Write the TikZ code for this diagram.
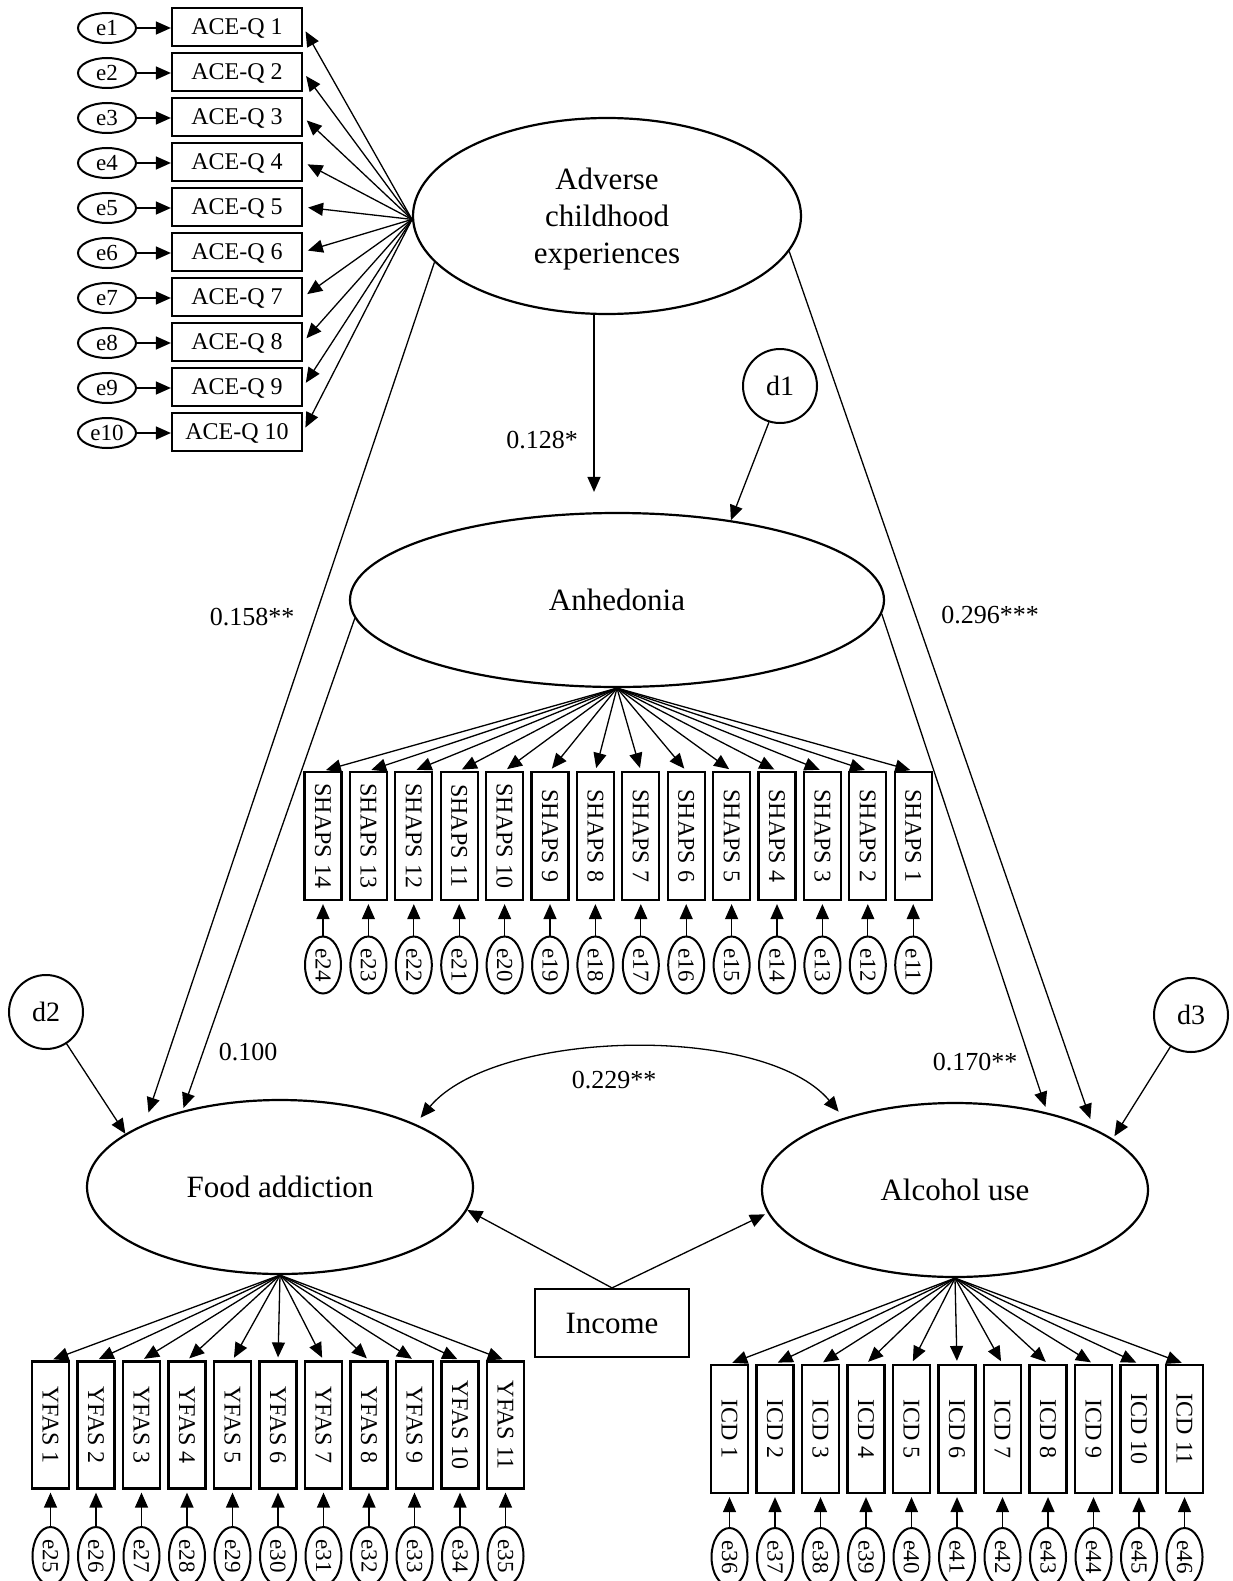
\documentclass[tikz,border=0pt]{standalone}
\usepackage{fontspec}
\setmainfont{Liberation Serif}
\usetikzlibrary{arrows.meta,shapes.geometric}
\tikzset{
  lat/.style={draw, ellipse, line width=2.2pt, inner sep=0pt, align=center, text depth=0pt, font=\fontsize{31}{37}\selectfont},
  obs/.style={draw, rectangle, line width=2.2pt, inner sep=0pt, font=\fontsize{24}{28}\selectfont},
  err/.style={draw, ellipse, line width=2pt, inner sep=0pt, font=\fontsize{23}{27}\selectfont},
  dist/.style={draw, circle, line width=2pt, minimum size=74pt, inner sep=0pt, font=\fontsize{28}{32}\selectfont},
  arr/.style={-{Triangle[length=15pt,width=13pt]}, line width=1.3pt},
  biarr/.style={{Triangle[length=15pt,width=13pt]}-{Triangle[length=15pt,width=13pt]}, line width=1.3pt},
  coef/.style={inner sep=0pt, font=\fontsize{26}{30}\selectfont}
}
\begin{document}
\begin{tikzpicture}[x=1pt,y=-1pt]
\useasboundingbox (0,0) rectangle (1233,1581);

% latent variables
\node[lat, minimum width=388pt, minimum height=196pt] (ace) at (607,216) {Adverse\\childhood\\experiences};
\node[lat, minimum width=534pt, minimum height=174pt] (anh) at (617,600) {Anhedonia};
\node[lat, minimum width=386pt, minimum height=174pt] (fa) at (280,1187) {Food addiction};
\node[lat, minimum width=386pt, minimum height=174pt] (al) at (955,1190) {Alcohol use};
\node[obs, minimum width=154pt, minimum height=68pt, text depth=0pt, font=\fontsize{31}{37}\selectfont] (inc) at (612,1323) {Income};

% disturbances
\node[dist] (d1) at (780,386) {d1};
\node[dist] (d2) at (46,1012) {d2};
\node[dist] (d3) at (1191,1015) {d3};

% ACE indicators
\foreach \i in {1,...,10} {
  \pgfmathsetmacro\yy{27+45*(\i-1)}
  \node[obs, text depth=0pt, minimum width=130pt, minimum height=38pt] (a\i) at (237,\yy) {ACE-Q \i};
  \node[err, minimum width=58pt, minimum height=30pt] (ea\i) at (107,\yy+1) {e\i};
  \draw[arr] (ea\i.east) -- (ea\i.east -| a\i.west);
  \draw[arr, shorten >=5pt] (ace.181) -- (a\i.east);
}

% SHAPS indicators
\foreach \k in {0,...,13} {
  \pgfmathsetmacro\xx{323+45.4*\k}
  \pgfmathtruncatemacro\nn{14-\k}
  \pgfmathtruncatemacro\mm{24-\k}
  \node[obs, minimum width=37pt, minimum height=128pt] (s\nn) at (\xx,836) {\rotatebox{-90}{SHAPS \nn}};
  \node[err, minimum width=36pt, minimum height=57pt] (es\nn) at (\xx,965) {\rotatebox{-90}{e\mm}};
  \draw[arr, shorten >=3pt] (es\nn.north) -- (s\nn.south);
  \draw[arr, shorten >=3pt] (anh.south) -- (s\nn.north);
}

% YFAS indicators
\foreach \k in {0,...,10} {
  \pgfmathsetmacro\xx{50.5+45.5*\k}
  \pgfmathtruncatemacro\nn{\k+1}
  \pgfmathtruncatemacro\mm{25+\k}
  \node[obs, minimum width=37pt, minimum height=127pt] (y\nn) at (\xx,1425) {\rotatebox{-90}{YFAS \nn}};
  \node[err, minimum width=36pt, minimum height=58pt] (ey\nn) at (\xx,1556) {\rotatebox{-90}{e\mm}};
  \draw[arr, shorten >=3pt] (ey\nn.north) -- (y\nn.south);
  \draw[arr, shorten >=3pt] (fa.south) -- (y\nn.north);
}

% ICD indicators
\foreach \k in {0,...,10} {
  \pgfmathsetmacro\xx{729.5+45.5*\k}
  \pgfmathtruncatemacro\nn{\k+1}
  \pgfmathtruncatemacro\mm{36+\k}
  \node[obs, minimum width=37pt, minimum height=128pt] (c\nn) at (\xx,1429) {\rotatebox{-90}{ICD \nn}};
  \node[err, minimum width=36pt, minimum height=58pt] (ec\nn) at (\xx,1557) {\rotatebox{-90}{e\mm}};
  \draw[arr, shorten >=3pt] (ec\nn.north) -- (c\nn.south);
  \draw[arr, shorten >=3pt] (al.south) -- (c\nn.north);
}

% structural paths
\draw[arr, shorten >=20pt] ([xshift=-13pt]ace.south) -- ([xshift=-13pt]ace.south |- anh.north);
\draw[arr] (d1.-107) -- (anh.35);
\draw[arr, shorten >=12pt] (ace.195) -- (fa.155);
\draw[arr, shorten >=3pt] (anh.184) -- (fa.142);
\draw[arr] (d2.-57) -- (fa.161);
\draw[arr, shorten >=10pt] (ace.-11) -- (al.24);
\draw[arr, shorten >=6pt] (anh.-3) -- (al.40);
\draw[arr, shorten >=3pt] (d3.-123) -- (al.18);
\draw[arr] (inc.north) -- (fa.-7);
\draw[arr, shorten >=3pt] (inc.north) -- (al.187);
\draw[biarr, shorten <=8pt, shorten >=8pt] (fa.25) .. controls +(80,-95) and +(-80,-95) .. (al.147);

% coefficients
\node[coef] (k1) at (542,440) {0.128*};
\node[coef] (k2) at (252,617) {0.158**};
\node[coef] (k3) at (990,615) {0.296***};
\node[coef] (k4) at (248,1052) {0.100};
\node[coef] (k5) at (975,1062) {0.170**};
\node[coef] (k6) at (614,1080) {0.229**};
\end{tikzpicture}
\end{document}
